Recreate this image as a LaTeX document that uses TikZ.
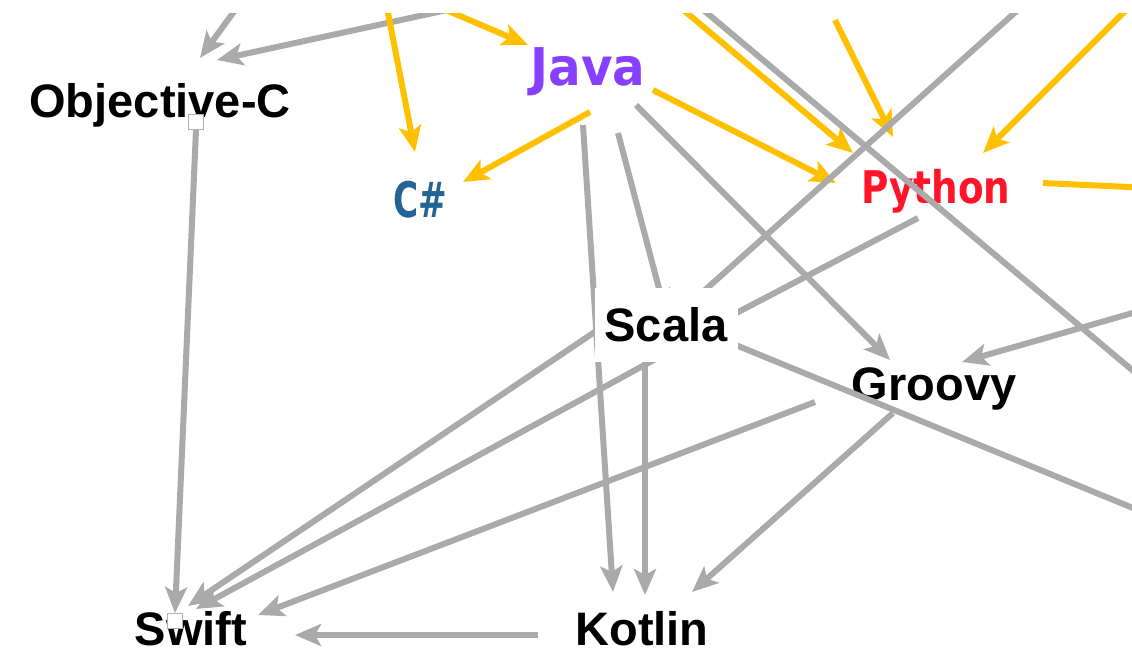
\documentclass[tikz,border=0pt]{standalone}
\usepackage{fontspec}
\setmainfont{Liberation Sans}
\newfontfamily\dvs{DejaVu Sans}
\usetikzlibrary{arrows.meta,calc}
\pgfdeclarelayer{edges}
\pgfdeclarelayer{top}
\pgfsetlayers{main,edges,top}
\definecolor{edgegray}{RGB}{170,170,170}
\definecolor{amber}{RGB}{255,192,0}
\definecolor{javapurple}{RGB}{136,64,255}
\definecolor{pyred}{RGB}{255,20,40}
\definecolor{csblue}{RGB}{35,100,150}
\tikzset{
  lbl/.style={inner sep=0pt, anchor=base, font={\fontsize{47}{50}\selectfont\bfseries}},
  grayedge/.style={draw=edgegray, line width=6pt},
  goldedge/.style={draw=amber, line width=6pt},
  tipped/.style={-{Stealth[length=26pt,width=22pt,inset=6pt]}},
  port/.style={draw=gray!60, fill=white, line width=0.8pt, minimum size=15pt, inner sep=0pt},
  scalabox/.style={fill=white, inner sep=0pt, minimum width=143pt, minimum height=74pt,
    font={\fontsize{47}{50}\selectfont\bfseries}}
}
\begin{document}
\begin{tikzpicture}[x=1pt,y=-1pt]
\useasboundingbox (0,0) rectangle (1132,656);
% text labels
\node[lbl] (objc) at (160,117) {Objective-C};
\node[lbl, font={\dvs\bfseries\fontsize{52}{56}\selectfont}, text=javapurple] (java) at (588,85) {\scalebox{0.93}[1]{Java}};
\node[lbl, font={\dvs\bfseries\fontsize{49}{52}\selectfont}, text=csblue] (csharp) at (420,217) {\scalebox{0.7}[1]{C\#}};
\node[lbl, font={\dvs\bfseries\fontsize{45}{50}\selectfont}, text=pyred] (python) at (936,203) {\scalebox{0.83}[1]{Python}};
\node[lbl] (groovy) at (934,400) {Groovy};
\node[lbl] (kotlin) at (642,645) {Kotlin};
\node[lbl] (swift) at (191,645) {Swift};
\begin{pgfonlayer}{top}
\node[scalabox] (scala) at (666,325) {Scala};
\node[port] (ocport) at (196,122) {};
\node[port] (swport) at (175,621) {};
\fill[white] (0,0) rectangle (1132,13);
\end{pgfonlayer}
\begin{pgfonlayer}{edges}
\coordinate (t1) at (242.5,0);
\coordinate (t2) at (493,0);
\coordinate (t4) at (385.5,0);
\coordinate (t5) at (422.5,0);
\coordinate (t8) at (671.6,0);
\coordinate (t9a) at (691.5,0);
\coordinate (t9b) at (1150,385);
\coordinate (t10) at (835,20);
\coordinate (t11) at (1029,0);
\coordinate (t12) at (1136,0);
\coordinate (t13) at (1150,188);
\coordinate (t18) at (1150,308);
\coordinate (t19) at (1150,515);
\draw[grayedge,tipped] (t1) -- ($(objc.base)+(40,-59)$);
\draw[grayedge,tipped] (t2) -- ($(objc.base)+(57,-57)$);
\draw[grayedge,tipped] (ocport.south) -- (swport.north);
\draw[goldedge,tipped] (t4) -- ($(csharp.base)+(-5,-65)$);
\draw[goldedge,tipped] (t5) -- ($(java.base)+(-60,-40)$);
\draw[goldedge,tipped] ($(java.base)+(2,27)$) -- ($(csharp.base)+(43,-35)$);
\draw[goldedge,tipped] ($(java.base)+(65,5)$) -- ($(python.base)+(-100,-20)$);
\draw[goldedge,tipped] (t8) -- ($(python.base)+(-83,-50)$);
\draw[grayedge] (t9a) -- (t9b);
\draw[goldedge,tipped] (t10) -- ($(python.base)+(-43,-66)$);
\draw[grayedge,tipped] (t11) -- (scala.center);
\draw[goldedge,tipped] (t12) -- ($(python.base)+(47,-50)$);
\draw[goldedge] ($(python.base)+(107,-20)$) -- (t13);
\draw[grayedge,tipped] ($(java.base)+(-5,40)$) -- ($(kotlin.base)+(-29,-53)$);
\draw[grayedge,tipped] ($(java.base)+(30,48)$) -- ($(scala.center)+(0,-10)$);
\draw[grayedge,tipped] ($(java.base)+(48,20)$) -- ($(groovy.base)+(-44,-40)$);
\draw[grayedge,tipped] ($(python.base)+(-18,15)$) -- ($(scala.center)+(34,7)$);
\draw[grayedge,tipped] (t18) -- ($(groovy.base)+(28,-38)$);
\draw[grayedge] ($(scala.center)+(60,16)$) -- (t19);
\draw[grayedge,tipped] ($(scala.center)+(-61,0)$) -- ($(swift.base)+(-3,-39)$);
\draw[grayedge,tipped] ($(scala.center)+(-3,30)$) -- ($(swift.base)+(5,-36)$);
\draw[grayedge,tipped] ($(scala.center)+(-21,30)$) -- ($(kotlin.base)+(3,-50)$);
\draw[grayedge,tipped] ($(groovy.base)+(-119,2)$) -- ($(swift.base)+(67,-30)$);
\draw[grayedge,tipped] ($(groovy.base)+(-41,13)$) -- ($(kotlin.base)+(50,-53)$);
\draw[grayedge,tipped] ($(kotlin.base)+(-104,-10)$) -- ($(swift.base)+(104,-10)$);
\end{pgfonlayer}
\end{tikzpicture}
\end{document}
